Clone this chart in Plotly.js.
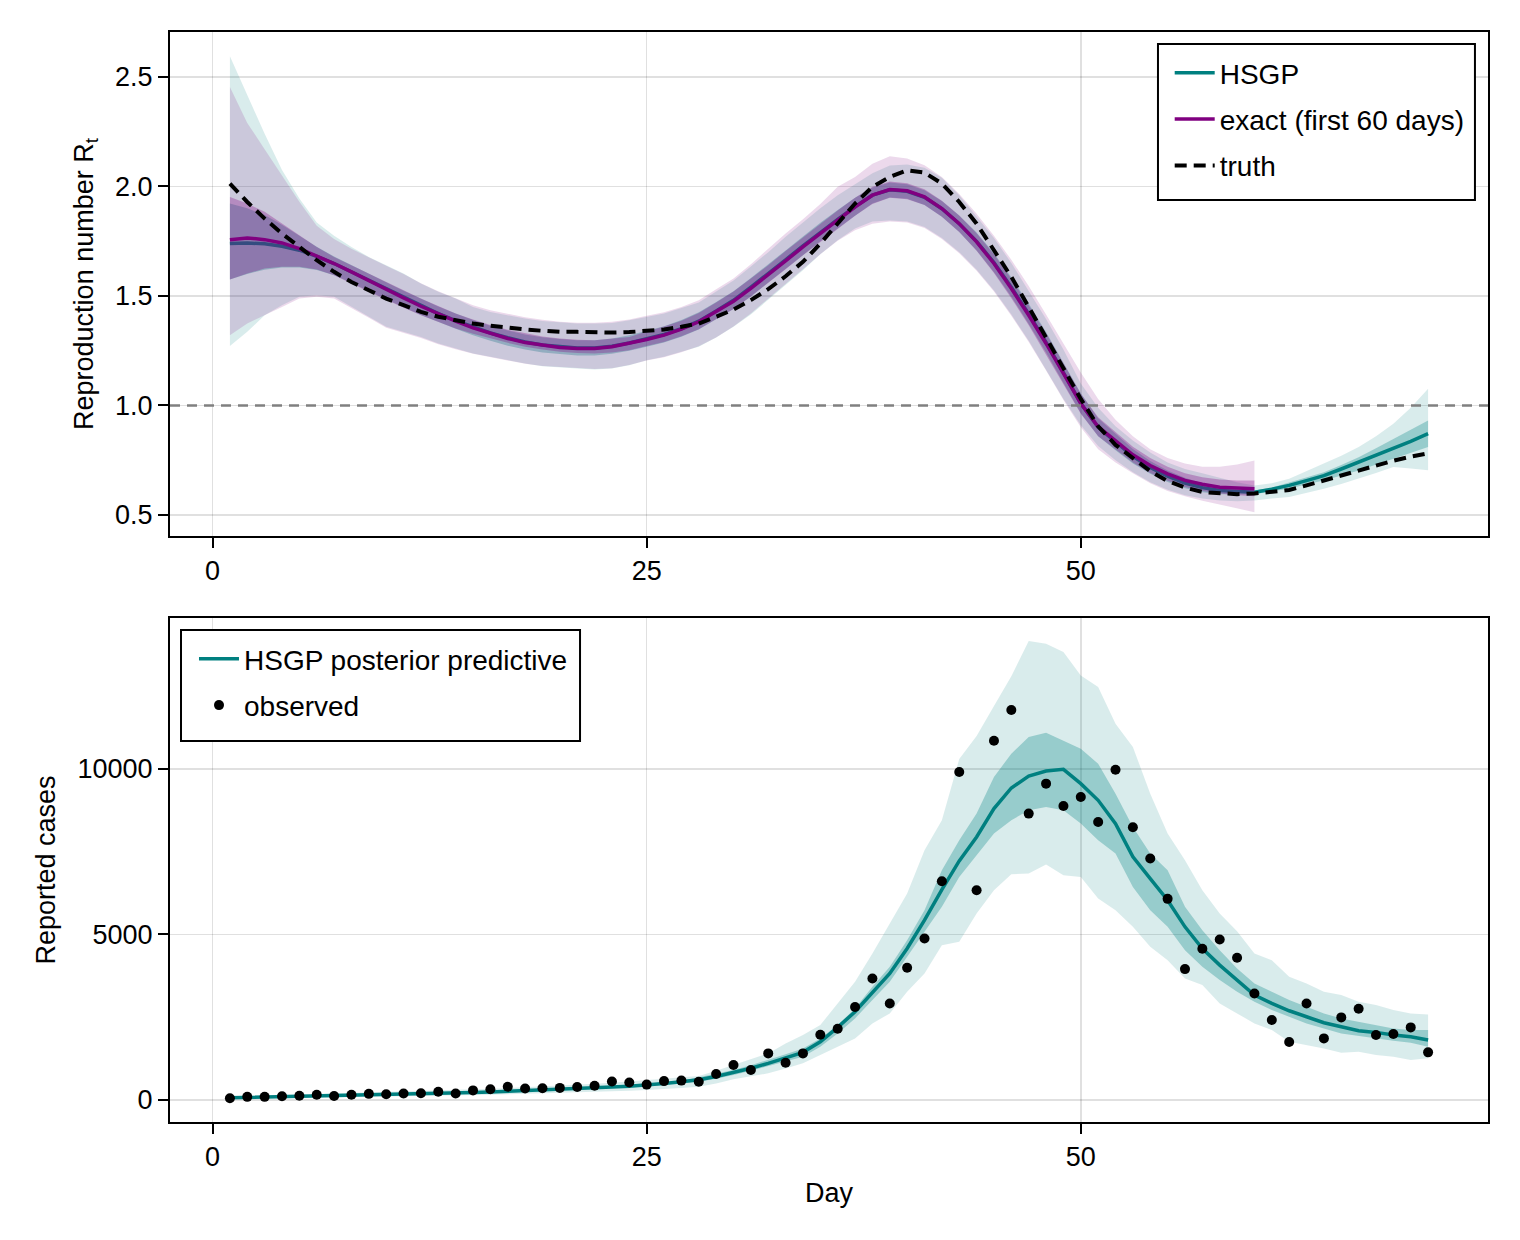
<!DOCTYPE html>
<html>
<head>
<meta charset="utf-8">
<script src="https://cdn.plot.ly/plotly-3.0.1.min.js"></script>
<style>html,body{margin:0;padding:0;background:#fff;}#chart{width:1520px;height:1240px;}</style>
</head>
<body>
<div id="chart"></div>
<script>
// ---------- data ----------
const days = Array.from({length: 70}, (_, i) => i + 1);
const daysExact = days.slice(0, 60);

const truthRt = [
  2.013,1.929,1.853,1.785,1.724,1.663,1.610,1.564,1.526,1.488,
  1.458,1.427,1.405,1.389,1.374,1.364,1.354,1.347,1.341,1.336,
  1.336,1.333,1.333,1.335,1.339,1.347,1.359,1.374,1.405,1.438,
  1.481,1.531,1.590,1.656,1.739,1.830,1.922,1.998,2.043,2.074,
  2.063,2.013,1.929,1.830,1.709,1.587,1.450,1.313,1.176,1.030,
  0.905,0.820,0.760,0.700,0.655,0.625,0.605,0.598,0.595,0.598,
  0.605,0.614,0.635,0.657,0.680,0.705,0.727,0.748,0.766,0.782];

const hsgpMed = [
  1.739,1.742,1.738,1.727,1.709,1.681,1.648,1.610,1.570,1.530,
  1.492,1.455,1.419,1.387,1.357,1.331,1.309,1.290,1.276,1.267,
  1.262,1.262,1.270,1.285,1.303,1.324,1.351,1.385,1.431,1.480,
  1.540,1.600,1.665,1.729,1.792,1.850,1.908,1.960,1.985,1.978,
  1.950,1.898,1.830,1.749,1.652,1.540,1.418,1.288,1.150,1.010,
  0.900,0.833,0.768,0.717,0.677,0.646,0.625,0.612,0.606,0.604,
  0.618,0.635,0.657,0.680,0.710,0.741,0.772,0.802,0.836,0.871];
const hsgpHi95 = [
  2.594,2.420,2.240,2.075,1.945,1.835,1.775,1.724,1.678,1.640,
  1.602,1.557,1.519,1.488,1.450,1.427,1.412,1.397,1.386,1.379,
  1.374,1.374,1.377,1.389,1.405,1.420,1.445,1.470,1.520,1.570,
  1.635,1.700,1.770,1.835,1.900,1.960,2.010,2.060,2.095,2.100,
  2.085,2.040,1.960,1.865,1.765,1.650,1.525,1.395,1.255,1.100,
  0.990,0.905,0.840,0.785,0.740,0.710,0.690,0.670,0.650,0.635,
  0.645,0.665,0.700,0.733,0.770,0.810,0.860,0.917,0.990,1.076];
const hsgpLo95 = [
  1.271,1.336,1.412,1.458,1.496,1.503,1.496,1.450,1.405,1.359,
  1.336,1.313,1.283,1.260,1.237,1.222,1.207,1.192,1.179,1.173,
  1.169,1.164,1.169,1.184,1.207,1.222,1.245,1.268,1.310,1.359,
  1.415,1.481,1.550,1.617,1.690,1.754,1.808,1.840,1.845,1.840,
  1.815,1.765,1.700,1.620,1.525,1.415,1.295,1.165,1.030,0.910,
  0.815,0.750,0.695,0.650,0.615,0.590,0.575,0.566,0.563,0.566,
  0.575,0.582,0.600,0.620,0.642,0.666,0.692,0.719,0.712,0.704];
const hsgpHi50 = [
  1.922,1.900,1.870,1.825,1.775,1.725,1.680,1.640,1.600,1.562,
  1.524,1.487,1.452,1.420,1.390,1.364,1.342,1.324,1.311,1.303,
  1.298,1.298,1.306,1.321,1.340,1.362,1.390,1.425,1.472,1.522,
  1.582,1.643,1.708,1.771,1.834,1.892,1.948,1.995,2.018,2.010,
  1.983,1.933,1.867,1.790,1.695,1.585,1.465,1.335,1.198,1.056,
  0.942,0.870,0.801,0.747,0.703,0.670,0.645,0.628,0.617,0.612,
  0.626,0.648,0.672,0.695,0.728,0.764,0.805,0.848,0.890,0.931];
const hsgpLo50 = [
  1.575,1.600,1.620,1.630,1.630,1.618,1.595,1.560,1.522,1.484,
  1.448,1.413,1.380,1.350,1.320,1.295,1.273,1.255,1.242,1.234,
  1.228,1.228,1.236,1.250,1.268,1.288,1.314,1.347,1.392,1.440,
  1.498,1.558,1.622,1.686,1.750,1.808,1.866,1.922,1.950,1.944,
  1.915,1.862,1.792,1.708,1.608,1.496,1.372,1.242,1.103,0.965,
  0.860,0.795,0.735,0.688,0.651,0.622,0.604,0.595,0.593,0.595,
  0.608,0.620,0.640,0.657,0.680,0.703,0.730,0.757,0.783,0.810];

const exactMed = [
  1.757,1.765,1.757,1.742,1.716,1.684,1.648,1.610,1.569,1.529,
  1.491,1.453,1.417,1.385,1.354,1.329,1.306,1.287,1.274,1.265,
  1.260,1.260,1.268,1.283,1.301,1.321,1.348,1.382,1.428,1.476,
  1.535,1.595,1.660,1.724,1.787,1.846,1.906,1.960,1.986,1.980,
  1.952,1.899,1.830,1.747,1.648,1.534,1.412,1.283,1.146,1.009,
  0.903,0.840,0.775,0.726,0.688,0.658,0.640,0.627,0.622,0.620];
const exactHi95 = [
  2.454,2.290,2.170,2.050,1.930,1.820,1.760,1.715,1.675,1.638,
  1.600,1.558,1.522,1.490,1.458,1.435,1.418,1.403,1.391,1.382,
  1.378,1.378,1.382,1.393,1.410,1.425,1.450,1.480,1.530,1.580,
  1.645,1.715,1.785,1.850,1.920,1.998,2.043,2.104,2.138,2.127,
  2.097,2.043,1.965,1.875,1.775,1.665,1.545,1.415,1.285,1.150,
  1.030,0.935,0.860,0.800,0.760,0.735,0.720,0.720,0.730,0.749];
const exactLo95 = [
  1.321,1.374,1.412,1.450,1.488,1.496,1.488,1.443,1.400,1.355,
  1.330,1.308,1.280,1.257,1.236,1.220,1.205,1.190,1.180,1.175,
  1.170,1.166,1.170,1.185,1.205,1.220,1.243,1.270,1.310,1.360,
  1.420,1.485,1.555,1.622,1.690,1.752,1.800,1.830,1.840,1.835,
  1.810,1.760,1.695,1.615,1.520,1.410,1.290,1.160,1.025,0.900,
  0.800,0.740,0.690,0.645,0.610,0.585,0.565,0.548,0.530,0.513];
const exactHi50 = [
  1.952,1.922,1.884,1.830,1.777,1.724,1.678,1.640,1.602,1.564,
  1.526,1.488,1.454,1.420,1.392,1.367,1.346,1.329,1.315,1.306,
  1.300,1.298,1.305,1.313,1.338,1.360,1.387,1.422,1.470,1.520,
  1.580,1.640,1.705,1.768,1.830,1.890,1.948,1.998,2.022,2.015,
  1.987,1.935,1.867,1.786,1.690,1.578,1.458,1.330,1.193,1.054,
  0.946,0.878,0.812,0.760,0.720,0.690,0.672,0.662,0.658,0.658];
const exactLo50 = [
  1.575,1.602,1.625,1.633,1.633,1.621,1.595,1.557,1.519,1.481,
  1.446,1.412,1.381,1.351,1.327,1.306,1.286,1.268,1.255,1.245,
  1.240,1.237,1.242,1.252,1.271,1.290,1.316,1.348,1.392,1.440,
  1.498,1.558,1.622,1.686,1.748,1.806,1.866,1.920,1.948,1.942,
  1.915,1.862,1.792,1.706,1.605,1.490,1.366,1.236,1.098,0.962,
  0.860,0.800,0.740,0.692,0.656,0.628,0.610,0.598,0.590,0.585];

const observedCases = [
  50,95,95,115,130,160,120,160,185,175,
  195,205,250,195,290,325,400,345,355,365,
  390,430,560,530,465,570,585,550,785,1056,
  905,1408,1127,1408,1972,2153,2807,3672,2917,3994,
  4879,6609,9909,6338,10855,11780,8652,9557,8883,9155,
  8400,9979,8240,7294,6076,3954,4567,4849,4296,3219,
  2414,1750,2917,1861,2495,2756,1962,1992,2193,1439];
const predMed = [
  65,75,85,94,103,113,123,134,145,157,
  170,183,197,212,228,244,262,280,300,320,
  342,365,390,418,450,495,550,610,710,825,
  960,1107,1270,1439,1760,2193,2666,3239,3823,4577,
  5432,6358,7223,7947,8803,9426,9788,9939,9990,9557,
  9054,8350,7344,6690,6036,5231,4577,4074,3622,3169,
  2917,2696,2515,2334,2213,2093,2042,1962,1911,1811];
const predHi95 = [
  110,125,138,150,162,175,188,202,216,231,
  247,263,280,298,317,337,358,380,404,430,
  458,488,520,555,595,640,685,724,885,1056,
  1247,1408,1710,1962,2264,2917,3571,4426,5332,6237,
  7545,8450,10300,11000,11900,12800,13863,13782,13531,12827,
  12474,11368,10664,9255,8048,7243,6338,5634,5100,4426,
  4225,3722,3521,3270,3169,2968,2867,2716,2616,2585];
const predLo95 = [
  40,45,52,58,64,71,78,85,93,101,
  110,119,129,139,150,161,173,186,200,214,
  229,245,262,280,300,325,360,402,500,624,
  715,805,950,1107,1358,1610,1861,2314,2616,3270,
  3823,4678,4778,5634,6338,6821,6841,7113,6791,6740,
  6086,5734,5231,4627,4225,3672,3471,2917,2616,2314,
  2113,1761,1660,1559,1429,1459,1358,1308,1207,1258];
const predHi50 = [
  80,88,97,106,115,125,135,146,158,170,
  183,197,212,228,245,262,281,300,321,343,
  366,390,418,447,480,525,580,684,800,905,
  1050,1207,1380,1559,1861,2264,2767,3420,4024,4829,
  5734,6941,7847,8652,9758,10462,10965,11096,10865,10614,
  10161,9255,8249,7445,6941,5835,5130,4527,3974,3521,
  3270,3018,2817,2616,2465,2364,2264,2163,2113,2113];
const predLo50 = [
  52,62,73,82,91,101,111,122,132,144,
  157,169,182,196,211,227,244,261,280,298,
  318,340,363,389,420,465,520,553,640,755,
  880,1006,1160,1308,1610,2012,2465,3018,3571,4326,
  5080,5835,6740,7394,8048,8450,8752,8853,8752,8350,
  7847,7445,6438,5734,5231,4527,4024,3622,3270,2968,
  2716,2515,2314,2163,2012,1932,1861,1791,1730,1610];

const xTicks = [0, 25, 50];
const rtTicks = [0.5, 1.0, 1.5, 2.0, 2.5];
const caseTicks = [0, 5000, 10000];
const rtThreshold = 1.0;

// ---------- styling ----------
const TEAL = '#008080', PURPLE = '#800080';
const FONT = 'Liberation Sans, Arial, sans-serif';
const FS = 27;

function band(x, lo, hi, color, alpha, xa, ya) {
  return {
    type: 'scatter', mode: 'lines',
    x: x.concat(x.slice().reverse()),
    y: hi.concat(lo.slice().reverse()),
    fill: 'toself', fillcolor: `rgba(${color},${alpha})`,
    line: {width: 0}, hoverinfo: 'skip', showlegend: false,
    xaxis: xa, yaxis: ya
  };
}

const traces = [
  band(days, hsgpLo95, hsgpHi95, '0,128,128', 0.15, 'x', 'y'),
  band(days, hsgpLo50, hsgpHi50, '0,128,128', 0.30, 'x', 'y'),
  {type:'scatter', mode:'lines', x: days, y: hsgpMed, name:'HSGP',
   line:{color:TEAL, width:3.5}, xaxis:'x', yaxis:'y', legend:'legend', legendgroup:'a'},
  band(daysExact, exactLo95, exactHi95, '128,0,128', 0.15, 'x', 'y'),
  band(daysExact, exactLo50, exactHi50, '128,0,128', 0.30, 'x', 'y'),
  {type:'scatter', mode:'lines', x: daysExact, y: exactMed, name:'exact (first 60 days)',
   line:{color:PURPLE, width:3.5}, xaxis:'x', yaxis:'y', legend:'legend', legendgroup:'b'},
  {type:'scatter', mode:'lines', x: days, y: truthRt, name:'truth',
   line:{color:'#000', width:4, dash:'12px,7px'}, xaxis:'x', yaxis:'y', legend:'legend', legendgroup:'c'},

  band(days, predLo95, predHi95, '0,128,128', 0.15, 'x2', 'y2'),
  band(days, predLo50, predHi50, '0,128,128', 0.30, 'x2', 'y2'),
  {type:'scatter', mode:'lines', x: days, y: predMed, name:'HSGP posterior predictive',
   line:{color:TEAL, width:3.5}, xaxis:'x2', yaxis:'y2', legend:'legend2', legendgroup:'d'},
  {type:'scatter', mode:'markers', x: days, y: observedCases, name:'observed',
   marker:{color:'#000', size:10}, xaxis:'x2', yaxis:'y2', legend:'legend2', legendgroup:'e'}
];

const axisCommon = {
  showline: true, mirror: true, linecolor: '#000', linewidth: 2,
  ticks: 'outside', ticklen: 10, tickwidth: 2, tickcolor: '#000',
  showgrid: true, gridcolor: 'rgba(0,0,0,0.12)', gridwidth: 1.5,
  zeroline: false, tickfont: {family: FONT, size: FS, color: '#000'}
};

const legendCommon = {
  bgcolor: 'rgba(0,0,0,0)', borderwidth: 0,
  font: {family: FONT, size: 28, color: '#000'},
  tracegroupgap: 7, itemwidth: 40
};

// legend frames (paper coordinates)
const legendFrame = (x0, x1, y0, y1) => ({
  type:'rect', xref:'paper', yref:'paper', x0, x1, y0, y1,
  line:{color:'#000', width:2}, fillcolor:'#fff', layer:'above'
});

const layout = {
  width: 1520, height: 1240,
  margin: {l: 170, r: 32, t: 32, b: 118},
  paper_bgcolor: '#fff', plot_bgcolor: '#fff',
  font: {family: FONT, size: FS, color: '#000'},
  xaxis: Object.assign({}, axisCommon, {domain:[0,1], anchor:'y', range:[-2.45, 73.45], tickvals: xTicks}),
  yaxis: Object.assign({}, axisCommon, {domain:[0.5376,1], anchor:'x', range:[0.404, 2.705], tickvals: rtTicks, tickformat:'.1f',
    title:{text:'Reproduction number R<sub>t</sub>', font:{family:FONT, size:FS}, standoff: 14}}),
  xaxis2: Object.assign({}, axisCommon, {domain:[0,1], anchor:'y2', range:[-2.45, 73.45], tickvals: xTicks,
    title:{text:'Day', font:{family:FONT, size:FS}, standoff: 12}}),
  yaxis2: Object.assign({}, axisCommon, {domain:[0,0.4624], anchor:'x2', range:[-665, 14562], tickvals: caseTicks, tickformat:'d',
    title:{text:'Reported cases', font:{family:FONT, size:FS}, standoff: 14}}),
  legend: Object.assign({}, legendCommon, {x: 0.7585, y: 0.9853, xanchor:'left', yanchor:'top'}),
  legend2: Object.assign({}, legendCommon, {x: 0.0182, y: 0.4477, xanchor:'left', yanchor:'top'}),
  shapes: [
    {type:'line', xref:'x domain', yref:'y', x0:0, x1:1, y0: rtThreshold, y1: rtThreshold,
     line:{color:'#808080', width:2.5, dash:'10px,7px'}, layer:'above'},
    legendFrame(0.7496, 0.9901, 0.8459, 0.989),
    legendFrame(0.00835, 0.3111, 0.3495, 0.4514)
  ],
  showlegend: true
};

Plotly.newPlot('chart', traces, layout, {displayModeBar:false, staticPlot:true});
</script>
</body>
</html>
